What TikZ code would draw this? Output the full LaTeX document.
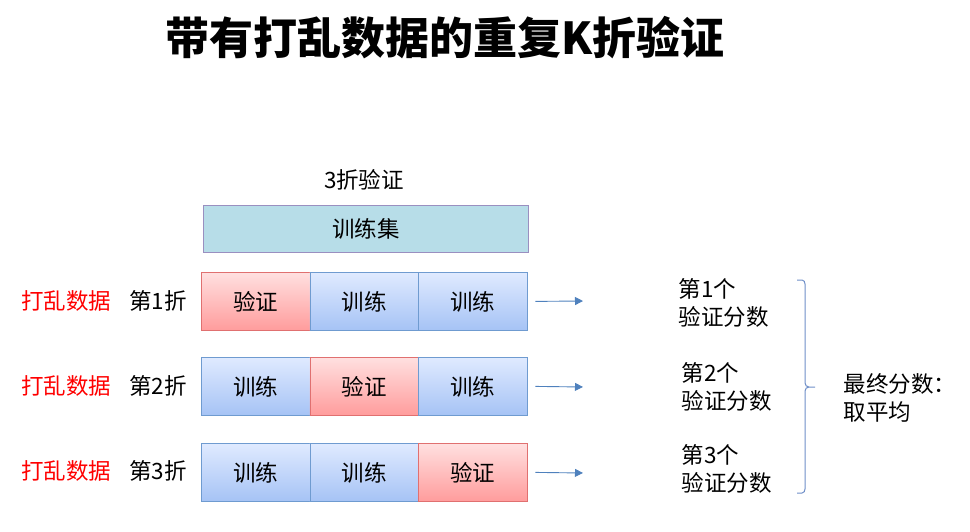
\documentclass[tikz,border=0pt]{standalone}
\usepackage{fontspec}
\setmainfont{Noto Sans CJK SC}
\usetikzlibrary{arrows.meta}
\definecolor{setfill}{HTML}{B7DDE8}
\definecolor{setdraw}{HTML}{9A8FC0}
\definecolor{redtop}{HTML}{FFE0E0}
\definecolor{redbot}{HTML}{FF9C9C}
\definecolor{reddraw}{HTML}{E07070}
\definecolor{bluetop}{HTML}{E0EAFF}
\definecolor{bluebot}{HTML}{A6C3F5}
\definecolor{bluedraw}{HTML}{6F9BD0}
\definecolor{arrowc}{HTML}{4F81BD}
\definecolor{bracec}{HTML}{6F8FC8}
\begin{document}
\begin{tikzpicture}[x=1pt,y=-1pt,
  cell/.style={minimum width=108.5pt,minimum height=58pt,inner sep=0pt,anchor=north west,font=\fontsize{22.5}{26}\selectfont},
  valcell/.style={cell,draw=reddraw,line width=0.8pt,top color=redtop,bottom color=redbot},
  traincell/.style={cell,draw=bluedraw,line width=0.8pt,top color=bluetop,bottom color=bluebot},
  shuf/.style={text=red,font=\fontsize{22.5}{26}\selectfont},
  foldlbl/.style={font=\fontsize{22.5}{26}\selectfont},
  score/.style={align=left,anchor=west,font=\fontsize{22.5}{28}\selectfont},
  arr/.style={draw=arrowc,line width=0.9pt,-{Triangle[length=8pt,width=8pt]}}]
\useasboundingbox (0,0) rectangle (970,532);
\node[font=\fontsize{44}{48}\selectfont\bfseries] (title) at (445,38) {带有打乱数据的重复K折验证};
\node[font=\fontsize{22.5}{26}\selectfont] (k3) at (364,180) {3折验证};
\node[draw=setdraw,fill=setfill,line width=0.8pt,minimum width=325pt,minimum height=47pt,inner sep=0pt,anchor=north west,font=\fontsize{22.5}{26}\selectfont] (set) at (203,205) {训练集};
% row 1
\node[valcell] (a1) at (201,272) {验证};
\node[traincell] (a2) at (309.5,272) {训练};
\node[traincell] (a3) at (418,272) {训练};
% row 2
\node[traincell] (b1) at (201,357) {训练};
\node[valcell] (b2) at (309.5,357) {验证};
\node[traincell] (b3) at (418,357) {训练};
% row 3
\node[traincell] (c1) at (201,443) {训练};
\node[traincell] (c2) at (309.5,443) {训练};
\node[valcell] (c3) at (418,443) {验证};
% left labels
\node[shuf] (s1) at (66,301) {打乱数据};
\node[shuf] (s2) at (66,386) {打乱数据};
\node[shuf] (s3) at (66,471) {打乱数据};
\node[foldlbl] (f1) at (158,301) {第1折};
\node[foldlbl] (f2) at (158,386) {第2折};
\node[foldlbl] (f3) at (158,471) {第3折};
% arrow ends
\coordinate (e1) at (583,301);
\coordinate (e2) at (583,387);
\coordinate (e3) at (583,473);
\draw[arr] ([xshift=8pt]a3.east) -- (e1);
\draw[arr] ([xshift=8pt]b3.east) -- (e2);
\draw[arr] ([xshift=8pt]c3.east) -- (e3);
% scores
\node[score] (r1) at (675,303) {第1个\\验证分数};
\node[score] (r2) at (678,387) {第2个\\验证分数};
\node[score] (r3) at (678,469) {第3个\\验证分数};
% brace
\coordinate (bt) at (797,280);
\coordinate (bb) at (797,493);
\draw[draw=bracec,line width=1pt] (bt) -- (802,280) to[out=0,in=90] (805,284) -- (805,383) to[out=-90,in=180] (809,387) -- (815,387)
  (809,387) to[out=180,in=90] (805,391) -- (805,489) to[out=-90,in=0] (802,493) -- (bb);
\node[score] (fin) at (840,398) {最终分数：\\取平均};
\end{tikzpicture}
\end{document}
